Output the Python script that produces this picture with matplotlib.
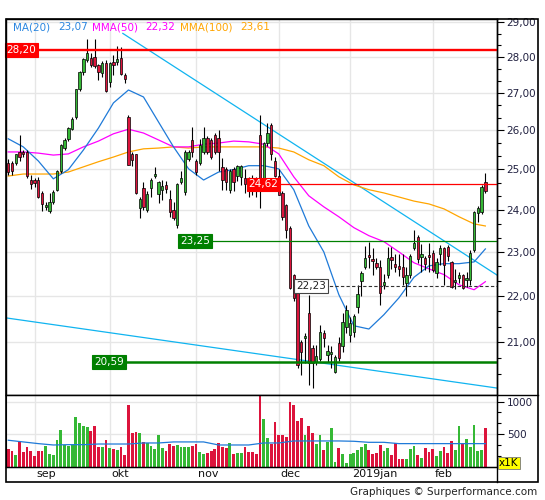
import matplotlib
matplotlib.use("Agg")
import matplotlib.pyplot as plt
from matplotlib.lines import Line2D
from matplotlib.patches import Rectangle
from matplotlib.ticker import FixedLocator, FuncFormatter, NullFormatter
import matplotlib.transforms as mtransforms
import numpy as np
import pandas as pd

W, H = 545, 500

# trading sessions (Euronext holidays removed)
dates = pd.bdate_range("2018-08-23", "2019-02-21")
dates = dates[~dates.isin(pd.to_datetime(["2018-12-25", "2018-12-26", "2019-01-01"]))]

opens = [25.15, 25.15, 25.17, 25.43, 25.45, 25.43, 24.74, 24.72, 24.74, 24.41,
         24.07, 23.98, 24.19, 24.49, 24.95, 25.55, 25.78, 26.03, 26.35, 27.10,
         27.58, 27.90, 27.97, 28.00, 27.77, 27.55, 27.83, 27.30, 27.86, 27.85,
         27.97, 27.49, 26.35, 25.40, 25.38, 24.03, 24.54, 24.00, 24.54, 24.82,
         24.39, 24.49, 24.61, 24.27, 24.00, 23.64, 24.69, 24.44, 25.25, 25.75,
         25.20, 25.17, 25.45, 25.80, 25.75, 25.88, 25.80, 25.05, 25.00, 24.49,
         25.00, 24.82, 24.80, 24.79, 24.70, 24.70, 24.70, 25.87, 24.59, 25.67,
         26.14, 25.20, 24.82, 24.41, 24.12, 23.57, 22.47, 22.13, 21.00, 21.08,
         21.62, 20.88, 20.59, 20.65, 21.20, 20.72, 20.76, 20.38, 20.98, 20.92,
         21.32, 21.15, 21.22, 21.76, 22.34, 22.65, 22.93, 22.84, 22.74, 22.65,
         22.24, 22.47, 22.88, 22.72, 22.67, 22.65, 22.30, 22.47, 23.09, 23.36,
         22.88, 22.86, 22.93, 22.98, 22.52, 22.95, 23.09, 23.12, 22.77, 22.31,
         22.41, 22.47, 22.36, 22.36, 23.05, 23.93, 23.95, 24.69]
highs = [25.25, 25.20, 25.40, 25.88, 25.50, 25.50, 24.85, 24.78, 24.80, 24.45,
         24.20, 24.41, 24.47, 24.98, 25.65, 25.80, 26.08, 26.35, 27.12, 27.60,
         27.98, 28.50, 28.12, 28.50, 27.80, 27.88, 27.90, 27.86, 28.05, 28.30,
         28.27, 27.55, 26.40, 25.43, 25.40, 24.30, 24.69, 24.45, 24.79, 25.05,
         24.70, 24.74, 24.70, 24.49, 24.20, 24.65, 24.95, 25.50, 25.50, 26.08,
         25.25, 25.78, 26.08, 25.85, 25.80, 25.93, 26.00, 25.29, 25.05, 25.00,
         25.05, 25.12, 25.10, 25.00, 24.80, 24.85, 24.80, 26.40, 25.70, 26.20,
         26.20, 25.32, 25.00, 24.45, 24.15, 23.60, 22.50, 22.15, 21.05, 21.20,
         22.02, 20.95, 20.94, 21.36, 21.25, 20.94, 20.92, 20.72, 21.10, 21.62,
         21.80, 21.55, 21.60, 22.24, 22.56, 23.14, 23.23, 23.09, 22.85, 22.81,
         22.50, 23.12, 23.12, 22.95, 22.95, 22.95, 22.65, 22.95, 23.52, 23.40,
         23.18, 22.90, 23.20, 23.05, 22.86, 23.15, 23.12, 23.15, 22.80, 22.60,
         22.55, 22.50, 22.55, 23.05, 23.98, 24.10, 24.60, 24.90]
lows = [24.85, 24.85, 25.10, 25.20, 25.30, 24.78, 24.50, 24.55, 24.28, 23.98,
        24.00, 23.93, 24.15, 24.45, 24.90, 25.50, 25.72, 26.00, 26.30, 27.05,
        27.50, 27.85, 27.72, 27.70, 27.36, 27.44, 27.03, 27.16, 27.49, 27.77,
        27.49, 27.28, 25.10, 25.07, 24.39, 23.80, 24.00, 23.95, 24.32, 24.78,
        24.17, 24.24, 24.40, 23.83, 23.76, 23.57, 24.62, 24.37, 25.20, 25.32,
        24.85, 25.10, 25.40, 25.40, 25.25, 25.40, 24.95, 24.49, 24.49, 24.42,
        24.45, 24.70, 24.60, 24.40, 24.30, 24.35, 24.30, 24.05, 24.55, 25.60,
        25.24, 24.80, 24.35, 23.76, 23.33, 22.15, 21.90, 20.45, 20.31, 20.57,
        20.11, 20.05, 20.53, 20.60, 20.90, 20.59, 20.45, 20.36, 20.60, 20.79,
        21.20, 21.00, 21.10, 21.62, 22.00, 22.60, 22.63, 22.47, 22.60, 21.80,
        22.15, 22.40, 22.60, 22.55, 22.45, 22.25, 22.00, 22.40, 23.05, 22.75,
        22.54, 22.58, 22.55, 22.55, 22.40, 22.70, 22.24, 22.80, 22.18, 22.15,
        22.30, 22.15, 22.20, 22.25, 23.00, 23.71, 23.90, 24.42]
closes = [24.92, 24.95, 25.38, 25.30, 25.38, 24.82, 24.62, 24.66, 24.32, 24.14,
          24.12, 24.19, 24.44, 24.95, 25.62, 25.75, 26.05, 26.30, 27.10, 27.58,
          27.95, 28.12, 27.77, 27.75, 27.58, 27.83, 27.06, 27.83, 27.78, 27.95,
          27.52, 27.38, 25.12, 25.24, 24.41, 24.27, 24.07, 24.39, 24.74, 24.87,
          24.67, 24.57, 24.51, 23.95, 23.81, 24.62, 24.77, 25.43, 25.45, 25.43,
          24.92, 25.62, 25.80, 25.45, 25.32, 25.45, 25.43, 24.74, 24.69, 24.95,
          24.69, 25.07, 25.07, 24.64, 24.60, 24.55, 24.60, 24.59, 25.67, 25.92,
          25.38, 24.82, 24.37, 23.83, 23.52, 22.18, 21.96, 20.53, 20.79, 21.12,
          20.57, 20.57, 20.70, 21.22, 21.08, 20.82, 20.79, 20.69, 20.67, 21.43,
          21.69, 21.40, 21.56, 22.05, 22.52, 22.86, 22.88, 22.80, 22.65, 22.07,
          22.31, 22.86, 22.82, 22.65, 22.60, 22.43, 22.47, 22.90, 23.21, 22.83,
          22.95, 22.72, 22.88, 22.58, 22.77, 23.09, 22.70, 22.90, 22.20, 22.36,
          22.47, 22.18, 22.41, 22.98, 23.95, 24.05, 24.56, 24.46]
# volume in thousands
volumes = [273, 242, 180, 378, 227, 305, 242, 169, 242, 232,
           320, 195, 180, 414, 555, 336, 320, 336, 758, 664,
           617, 602, 544, 617, 305, 305, 414, 289, 273, 258,
           305, 180, 945, 523, 534, 518, 383, 357, 320, 273,
           492, 289, 242, 352, 320, 336, 305, 305, 305, 320,
           352, 227, 195, 211, 242, 273, 367, 305, 289, 367,
           195, 211, 211, 305, 227, 227, 195, 1150, 727, 445,
           352, 680, 492, 477, 461, 992, 945, 695, 742, 477,
           617, 523, 352, 477, 258, 383, 586, 70, 289, 195,
           55, 195, 211, 258, 305, 352, 258, 195, 211, 336,
           242, 289, 180, 367, 117, 117, 117, 273, 320, 180,
           133, 289, 227, 273, 164, 242, 305, 211, 398, 258,
           617, 352, 430, 305, 633, 242, 258, 586]

# moving averages, read every 4th session
ma_idx = list(range(0, 128, 4)) + [127]
ma20 = [25.78, 25.57, 25.21, 24.76, 24.99, 25.49, 26.06, 26.73, 27.08, 26.89,
        26.22, 25.57, 25.01, 24.73, 24.93, 24.99, 25.09, 25.09, 25.01, 24.49,
        23.61, 23.00, 22.03, 21.35, 21.28, 21.59, 21.96, 22.42, 22.68, 22.73,
        22.73, 22.77, 23.07]
mma50 = [25.44, 25.44, 25.41, 25.36, 25.39, 25.57, 25.72, 25.91, 26.03, 25.93,
         25.75, 25.57, 25.57, 25.64, 25.67, 25.72, 25.70, 25.64, 25.39, 24.81,
         24.34, 24.07, 23.83, 23.57, 23.38, 23.24, 23.00, 22.75, 22.61, 22.48,
         22.25, 22.14, 22.32]
mma100 = [24.83, 24.88, 24.88, 24.88, 24.93, 25.06, 25.19, 25.31, 25.44, 25.52,
          25.54, 25.57, 25.54, 25.57, 25.57, 25.57, 25.57, 25.57, 25.54, 25.44,
          25.24, 25.09, 24.81, 24.61, 24.49, 24.41, 24.31, 24.21, 24.14, 24.02,
          23.83, 23.66, 23.61]
vol_ma = [404, 378, 352, 331, 336, 336, 346, 346, 346, 362,
          362, 378, 378, 378, 331, 331, 331, 362, 362, 393,
          393, 393, 393, 388, 372, 372, 352, 352, 352, 352,
          352, 352, 352]

# support / resistance levels: value and session where the line starts
level_values = [28.20, 24.62, 23.25, 20.59, 22.23]
level_start = [-0.6, 63.8, 45.6, 22.7, 76.5]

# trend lines: (session, price) pairs
trend_upper = [(30.5, 28.67), (130.1, 22.47)]
trend_lower = [(-0.6, 21.52), (130.1, 20.05)]

month_labels = ["sep", "okt", "nov", "dec", "2019jan", "feb"]

UP, DOWN = "#35b835", "#dc143c"
fmt = lambda v: f"{v:.2f}".replace(".", ",")

n = len(closes)
x = np.arange(n)
o, h, l, c = map(np.asarray, (opens, highs, lows, closes))
up = c >= o
month_pos = [i for i in range(1, n) if dates[i].month != dates[i - 1].month]

fig = plt.figure(figsize=(W / 100, H / 100), dpi=100)


def box(x0, y0, x1, y1):
    return [x0 / W, 1 - y1 / H, (x1 - x0) / W, (y1 - y0) / H]


ax = fig.add_axes(box(6, 19, 497, 395))
axv = fig.add_axes(box(6, 395, 497, 466.5))
XLIM = (-0.6, 130.1)

# ---- price panel
ax.set_yscale("log")
ax.set_xlim(*XLIM)
ax.set_ylim(19.91, 29.09)
for i in month_pos:
    ax.axvline(i, color="#e6e6e6", lw=1, zorder=0)
for p in range(21, 30):
    ax.axhline(p, color="#e6e6e6", lw=1, zorder=0)

ax.plot(*zip(*trend_upper), color="#10b4f0", lw=0.9, zorder=2)
ax.plot(*zip(*trend_lower), color="#10b4f0", lw=0.9, zorder=2)
ax.plot(ma_idx, mma100, color="#ffa500", lw=0.9, zorder=2)
ax.plot(ma_idx, mma50, color="#ff00ff", lw=0.9, zorder=2)
ax.plot(ma_idx, ma20, color="#1f7ad8", lw=0.9, zorder=2)

ax.vlines(x, l, h, color="black", lw=0.8, zorder=3)
ax.bar(x, np.abs(c - o), bottom=np.minimum(o, c), width=0.62,
       color=np.where(up, UP, DOWN), edgecolor="black", lw=0.5, zorder=4)

lvl_style = [
    dict(color="#ff0000", lw=1.7, ls="-", fc="#ff0000", tc="white", ec="#ff0000"),
    dict(color="#ff0000", lw=0.9, ls="-", fc="#ff0000", tc="white", ec="#ff0000"),
    dict(color="#008000", lw=0.9, ls="-", fc="#008000", tc="white", ec="#008000"),
    dict(color="#008000", lw=1.8, ls="-", fc="#008000", tc="white", ec="#008000"),
    dict(color="#333333", lw=0.8, ls=(0, (3, 2)), fc="white", tc="#222222", ec="#444444"),
]
for val, start, st in zip(level_values, level_start, lvl_style):
    ax.hlines(val, start, XLIM[1], color=st["color"], lw=st["lw"], linestyles=st["ls"], zorder=5)
    ax.text(start + 0.15, val, fmt(val), fontsize=7.5, color=st["tc"], ha="left", va="center",
            zorder=6, bbox=dict(boxstyle="square,pad=0.18", fc=st["fc"], ec=st["ec"], lw=0.8))

ax.yaxis.tick_right()
ax.yaxis.set_major_locator(FixedLocator(range(21, 30)))
ax.yaxis.set_minor_locator(FixedLocator([k + f for k in range(19, 29) for f in (1 / 3, 2 / 3)]))
ax.yaxis.set_major_formatter(FuncFormatter(lambda v, p: fmt(v)))
ax.yaxis.set_minor_formatter(NullFormatter())
ax.tick_params(axis="y", which="major", length=5, width=0.8, labelsize=7.5, pad=2, labelcolor="#202040")
ax.tick_params(axis="y", which="minor", length=3, width=0.8)
ax.set_xticks([])
for s in ax.spines.values():
    s.set_linewidth(1)

# ---- volume panel
axv.set_xlim(*XLIM)
axv.set_ylim(0, 1100)
for i in month_pos:
    axv.axvline(i, color="#e6e6e6", lw=1, zorder=0)
for v in (500, 1000):
    axv.axhline(v, color="#e6e6e6", lw=1, zorder=0)
axv.bar(x, volumes, width=0.75, color=np.where(up, UP, DOWN), zorder=2)
axv.plot(ma_idx, vol_ma, color="#1f7ad8", lw=0.9, zorder=3)
axv.yaxis.tick_right()
axv.yaxis.set_major_locator(FixedLocator([500, 1000]))
axv.yaxis.set_minor_locator(FixedLocator([500 / 3 * k for k in (1, 2, 4, 5)]))
axv.yaxis.set_major_formatter(FuncFormatter(lambda v, p: f"{v:.0f}"))
axv.tick_params(axis="y", which="major", length=5, width=0.8, labelsize=7.5, pad=2, labelcolor="#202040")
axv.tick_params(axis="y", which="minor", length=3, width=0.8)
axv.set_xticks([])
trans = mtransforms.blended_transform_factory(axv.transData, axv.transAxes)
for i, lab in zip(month_pos, month_labels):
    axv.text(i + 0.45, -0.1, lab, transform=trans, ha="left", va="center",
             fontsize=8, color="#111111")

# ---- frame
fig.add_artist(Rectangle((6 / W, 1 - 482 / H), 532 / W, 463 / H, transform=fig.transFigure,
                         fill=False, ec="black", lw=1.2))
fig.add_artist(Line2D([497 / W, 497 / W], [1 - 19 / H, 1 - 482 / H], color="black", lw=1))
fig.add_artist(Line2D([6 / W, 538 / W], [1 - 395 / H, 1 - 395 / H], color="black", lw=1))
fig.add_artist(Line2D([6 / W, 497 / W], [1 - 466.5 / H, 1 - 466.5 / H], color="black", lw=1))

fig.text(499 / W, 1 - 463 / H, "x1K", fontsize=7.5, ha="left", va="center",
         bbox=dict(boxstyle="square,pad=0.12", fc="#ffff00", ec="#777777", lw=0.6))

# ---- legend strip
legend = [("MA(20)", 13, "#2a86e0"), (fmt(ma20[-1]), 58, "#2a86e0"),
          ("MMA(50)", 92, "#ff00ff"), (fmt(mma50[-1]), 145, "#ff00ff"),
          ("MMA(100)", 180, "#ffa500"), (fmt(mma100[-1]), 240, "#ffa500")]
for txt, px, col in legend:
    fig.text(px / W, 1 - 27 / H, txt, color=col, fontsize=7.5, ha="left", va="center")

fig.text(537 / W, 1 - 492 / H, "Graphiques \u00a9 Surperformance.com", fontsize=7.5,
         ha="right", va="center", color="#222222")

fig.savefig("out.png", dpi=100)
